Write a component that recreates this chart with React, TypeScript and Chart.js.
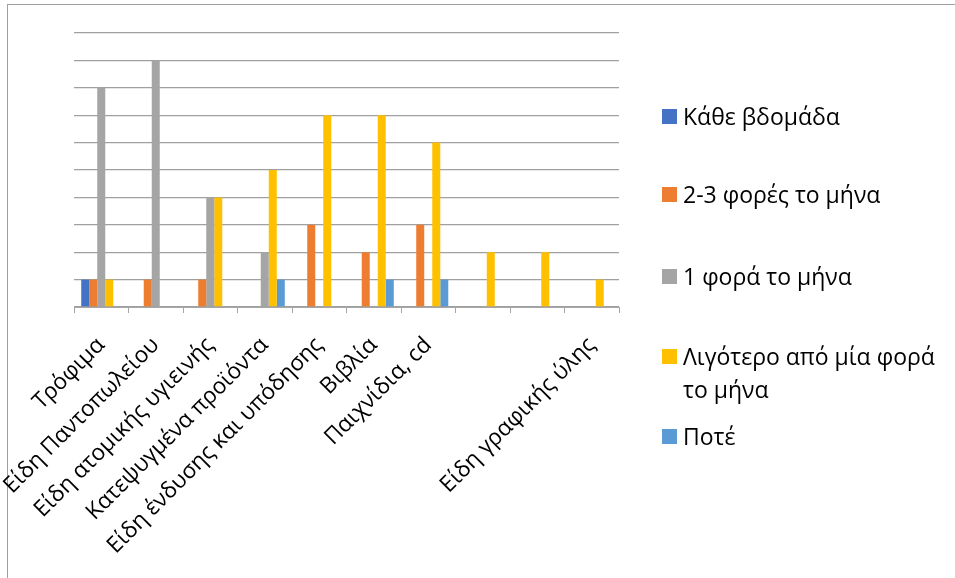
import React, { useEffect, useRef } from "react";
import { Chart, registerables } from "chart.js";

Chart.register(...registerables);

const categories = [
  "Τρόφιμα",
  "Είδη Παντοπωλείου",
  "Είδη ατομικής υγιεινής",
  "Κατεψυγμένα προϊόντα",
  "Είδη ένδυσης και υπόδησης",
  "Βιβλία",
  "Παιχνίδια, cd",
  "",
  "",
  "Είδη γραφικής ύλης",
];

const seriesNames = [
  "Κάθε βδομάδα",
  "2-3 φορές το μήνα",
  "1 φορά το μήνα",
  "Λιγότερο από μία φορά το μήνα",
  "Ποτέ",
];

const everyWeek = [1, 0, 0, 0, 0, 0, 0, 0, 0, 0];
const twoThreeMonth = [1, 1, 1, 0, 3, 2, 3, 0, 0, 0];
const oncePerMonth = [8, 9, 4, 2, 0, 0, 0, 0, 0, 0];
const lessThanMonthly = [1, 0, 4, 5, 7, 7, 6, 2, 2, 1];
const never = [0, 0, 0, 1, 0, 1, 1, 0, 0, 0];

const yTicks = [0, 1, 2, 3, 4, 5, 6, 7, 8, 9, 10];

const colors = ["#4472C4", "#ED7D31", "#A5A5A5", "#FFC000", "#5B9BD5"];

const FONT = "'Open Sans', sans-serif";

export default function App() {
  const ref = useRef<HTMLCanvasElement | null>(null);

  useEffect(() => {
    if (!ref.current) return;
    const values = [everyWeek, twoThreeMonth, oncePerMonth, lessThanMonthly, never];
    const chart = new Chart(ref.current, {
      type: "bar",
      data: {
        labels: categories,
        datasets: seriesNames.map((name, i) => ({
          label: name,
          data: values[i].map((v) => (v === 0 ? null : v)),
          backgroundColor: colors[i],
          borderWidth: 0,
          categoryPercentage: 0.735,
          barPercentage: 1,
        })),
      },
      options: {
        animation: false,
        responsive: false,
        maintainAspectRatio: false,
        layout: { padding: { left: 74, top: 33, right: 336, bottom: 0 } },
        plugins: {
          legend: { display: false },
          tooltip: { enabled: false },
          title: { display: false },
        },
        scales: {
          x: {
            offset: true,
            afterFit: (scale: any) => {
              scale.height = 578 - 307;
            },
            grid: {
              display: true,
              drawOnChartArea: false,
              drawTicks: true,
              tickLength: 6,
              color: "#A6A6A6",
              lineWidth: 1,
              offset: true,
            },
            border: { display: true, color: "#A6A6A6", width: 1 },
            ticks: {
              autoSkip: false,
              minRotation: 45,
              maxRotation: 45,
              color: "#000000",
              padding: 19,
              font: { family: FONT, size: 22.5 },
            },
          },
          y: {
            min: yTicks[0],
            max: yTicks[yTicks.length - 1],
            afterFit: (scale: any) => {
              scale.width = 0;
            },
            afterBuildTicks: (scale: any) => {
              scale.ticks = yTicks.map((v) => ({ value: v }));
            },
            ticks: { display: false },
            grid: {
              display: true,
              drawTicks: false,
              color: "#A0A0A0",
              lineWidth: 1.3,
            },
            border: { display: false },
          },
        },
      },
    });
    return () => chart.destroy();
  }, []);

  const legendTops = [117, 195, 277, 357, 437];

  return (
    <div
      style={{
        position: "fixed",
        left: 0,
        top: 0,
        width: 955,
        height: 578,
        background: "#ffffff",
        overflow: "hidden",
        fontFamily: FONT,
      }}
    >
      <div
        style={{
          position: "absolute",
          left: 7,
          top: 4,
          width: 1000,
          height: 1000,
          borderLeft: "1.5px solid #A0A0A0",
          borderTop: "1.5px solid #A0A0A0",
        }}
      />
      <canvas
        ref={ref}
        width={955}
        height={578}
        style={{ position: "absolute", left: 0, top: 0, width: 955, height: 578 }}
      />
      {seriesNames.map((name, i) => (
        <div
          key={name}
          style={{
            position: "absolute",
            left: 662,
            top: legendTops[i] - 17,
            width: 290,
            display: "flex",
            alignItems: "flex-start",
            fontSize: 23,
            lineHeight: "33px",
            color: "#000",
          }}
        >
          <span
            style={{
              display: "inline-block",
              width: 15,
              height: 15,
              background: colors[i],
              marginTop: 9,
              marginRight: 6,
              flex: "0 0 auto",
            }}
          />
          <span style={{ maxWidth: 262 }}>{name}</span>
        </div>
      ))}
    </div>
  );
}
